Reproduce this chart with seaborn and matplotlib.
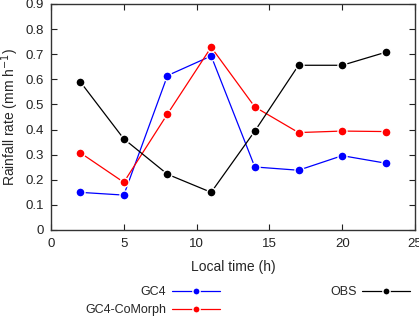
import matplotlib
matplotlib.use("Agg")
import matplotlib.pyplot as plt
import seaborn as sns
import pandas as pd

hours = [2, 5, 8, 11, 14, 17, 20, 23]
gc4 = [0.150, 0.139, 0.615, 0.693, 0.251, 0.238, 0.296, 0.266]
gc4_comorph = [0.308, 0.190, 0.462, 0.728, 0.490, 0.388, 0.394, 0.392]
obs = [0.591, 0.363, 0.222, 0.150, 0.394, 0.656, 0.656, 0.708]

series = {'GC4': gc4, 'GC4-CoMorph': gc4_comorph, 'OBS': obs}
colors = {'GC4': '#0000ff', 'GC4-CoMorph': '#ff0000', 'OBS': '#000000'}

df = pd.concat([pd.DataFrame({'hour': hours, 'rate': v, 'run': k})
                for k, v in series.items()], ignore_index=True)

sns.set_theme(style="ticks")
plt.rcParams['font.family'] = ['Liberation Sans', 'DejaVu Sans']

fig = plt.figure(figsize=(4.19, 3.17), dpi=100)
ax = fig.add_axes([51 / 419, 87 / 317, 364 / 419, 226 / 317])

handles = []
for name in series:
    sub = df[df['run'] == name]
    sns.lineplot(data=sub, x='hour', y='rate', ax=ax, color=colors[name],
                 lw=0.9, marker='o', markersize=6.5, markeredgecolor='white',
                 markeredgewidth=1.0, label=name, legend=False)
    handles.append(ax.lines[-1])

ax.set_xlim(0, 25)
ax.set_ylim(0, 0.9)
ax.set_xticks([0, 5, 10, 15, 20, 25])
ax.set_yticks([i / 10 for i in range(10)])
ax.set_yticklabels(['0'] + [f'{i / 10:.1f}' for i in range(1, 10)])
ax.tick_params(direction='in', top=True, right=True, length=4, width=0.8,
               labelsize=9.5, colors='#222222')
ax.tick_params(axis='x', pad=6)
ax.tick_params(axis='y', pad=5)
for s in ax.spines.values():
    s.set_color('#333333')
    s.set_linewidth(1.0)

ax.set_xlabel('Local time (h)', fontsize=10, labelpad=7)
ax.set_ylabel('Rainfall rate (mm h$^{-1}$)', fontsize=10, labelpad=3)

leg = fig.legend(handles=handles, labels=list(series), loc='upper left',
                 bbox_to_anchor=(79 / 419, 1 - 280 / 317), ncol=2,
                 markerfirst=False, frameon=False, fontsize=9,
                 handlelength=3.85, numpoints=1, columnspacing=8.8,
                 labelspacing=0.45, handletextpad=0.45, borderpad=0,
                 markerscale=0.8)

fig.savefig('out.png', dpi=100)
